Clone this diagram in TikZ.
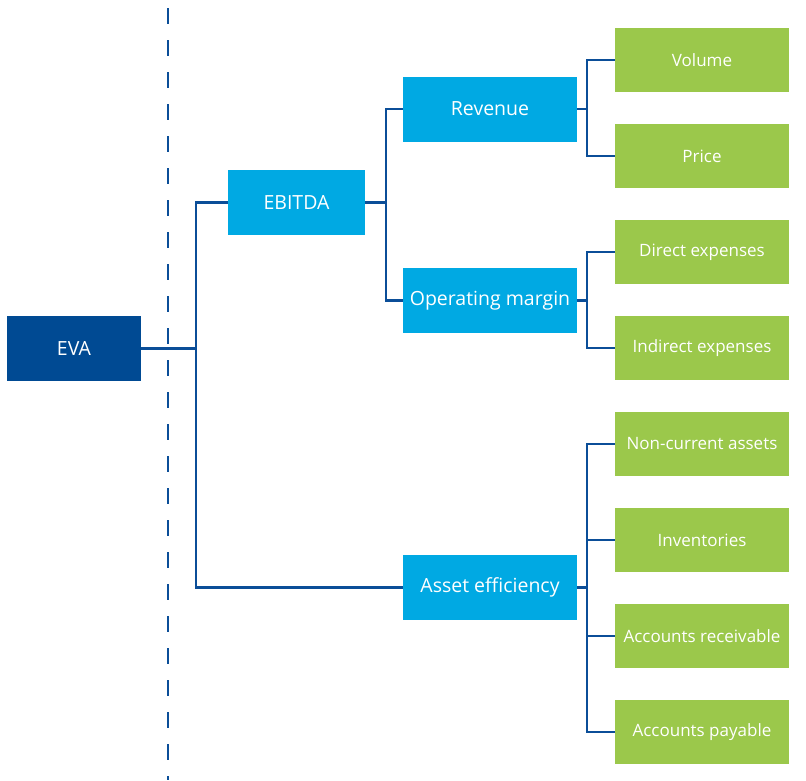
\documentclass[tikz,border=0pt]{standalone}
\usepackage{fontspec}
\setmainfont{Open Sans}
\definecolor{evablue}{HTML}{004A93}
\definecolor{midblue}{HTML}{00A9E3}
\definecolor{leafgreen}{HTML}{9BC84B}
\definecolor{linkblue}{HTML}{0B4E98}
\begin{document}
\begin{tikzpicture}[x=1pt,y=-1pt,
  box/.style={rectangle, inner sep=0pt, text=white, anchor=center},
  rootbox/.style={box, fill=evablue, minimum width=134pt, minimum height=65pt, font=\fontsize{19.5}{22}\selectfont},
  midbox/.style={box, fill=midblue, minimum height=65pt, font=\fontsize{19.5}{22}\selectfont},
  leafbox/.style={box, fill=leafgreen, minimum width=174pt, minimum height=64pt, font=\fontsize{17}{20}\selectfont},
  link/.style={draw=linkblue, line width=2.4pt},
  divider/.style={draw=linkblue, line width=2.4pt, dash pattern=on 16pt off 16pt}
]
\useasboundingbox (0,0) rectangle (806,780);

% dashed separator
\coordinate (dtop) at (168,8);
\coordinate (dbot) at (168,780);
\draw[divider] (dtop) -- (dbot);

% boxes
\node[rootbox] (eva) at (74,348.5) {EVA};
\node[midbox, minimum width=137pt] (ebitda) at (296.5,202.5) {EBITDA};
\node[midbox, minimum width=174pt] (rev) at (490,109) {Revenue};
\node[midbox, minimum width=174pt] (opm) at (490,300.5) {Operating margin};
\node[midbox, minimum width=174pt] (asset) at (490,587.5) {Asset efficiency};

\node[leafbox] (vol) at (702,60) {Volume};
\node[leafbox] (price) at (702,156) {Price};
\node[leafbox] (dexp) at (702,252) {Direct expenses};
\node[leafbox] (iexp) at (702,348) {Indirect expenses};
\node[leafbox] (nca) at (702,444) {Non-current assets};
\node[leafbox] (inv) at (702,540) {Inventories};
\node[leafbox] (ar) at (702,636) {Accounts receivable};
\node[leafbox] (ap) at (702,732) {Accounts payable};

% junction points of the tree
\coordinate (j1) at (196,348.5);
\coordinate (j2) at (386,202.5);
\coordinate (j3) at (587,109);
\coordinate (j4) at (587,300.5);
\coordinate (j5) at (587,587.5);

% connectors
\draw[link] (eva.east) -- (j1);
\draw[link] (ebitda.west) -| (j1);
\draw[link] (asset.west) -| (j1);

\draw[link] (ebitda.east) -- (j2);
\draw[link] (rev.west) -| (j2);
\draw[link] (opm.west) -| (j2);

\draw[link] (rev.east) -- (j3);
\draw[link] (vol.west) -| (j3);
\draw[link] (price.west) -| (j3);

\draw[link] (opm.east) -- (j4);
\draw[link] (dexp.west) -| (j4);
\draw[link] (iexp.west) -| (j4);

\draw[link] (asset.east) -- (j5);
\draw[link] (nca.west) -| (j5);
\draw[link] (inv.west) -| (j5);
\draw[link] (ar.west) -| (j5);
\draw[link] (ap.west) -| (j5);
\end{tikzpicture}
\end{document}
